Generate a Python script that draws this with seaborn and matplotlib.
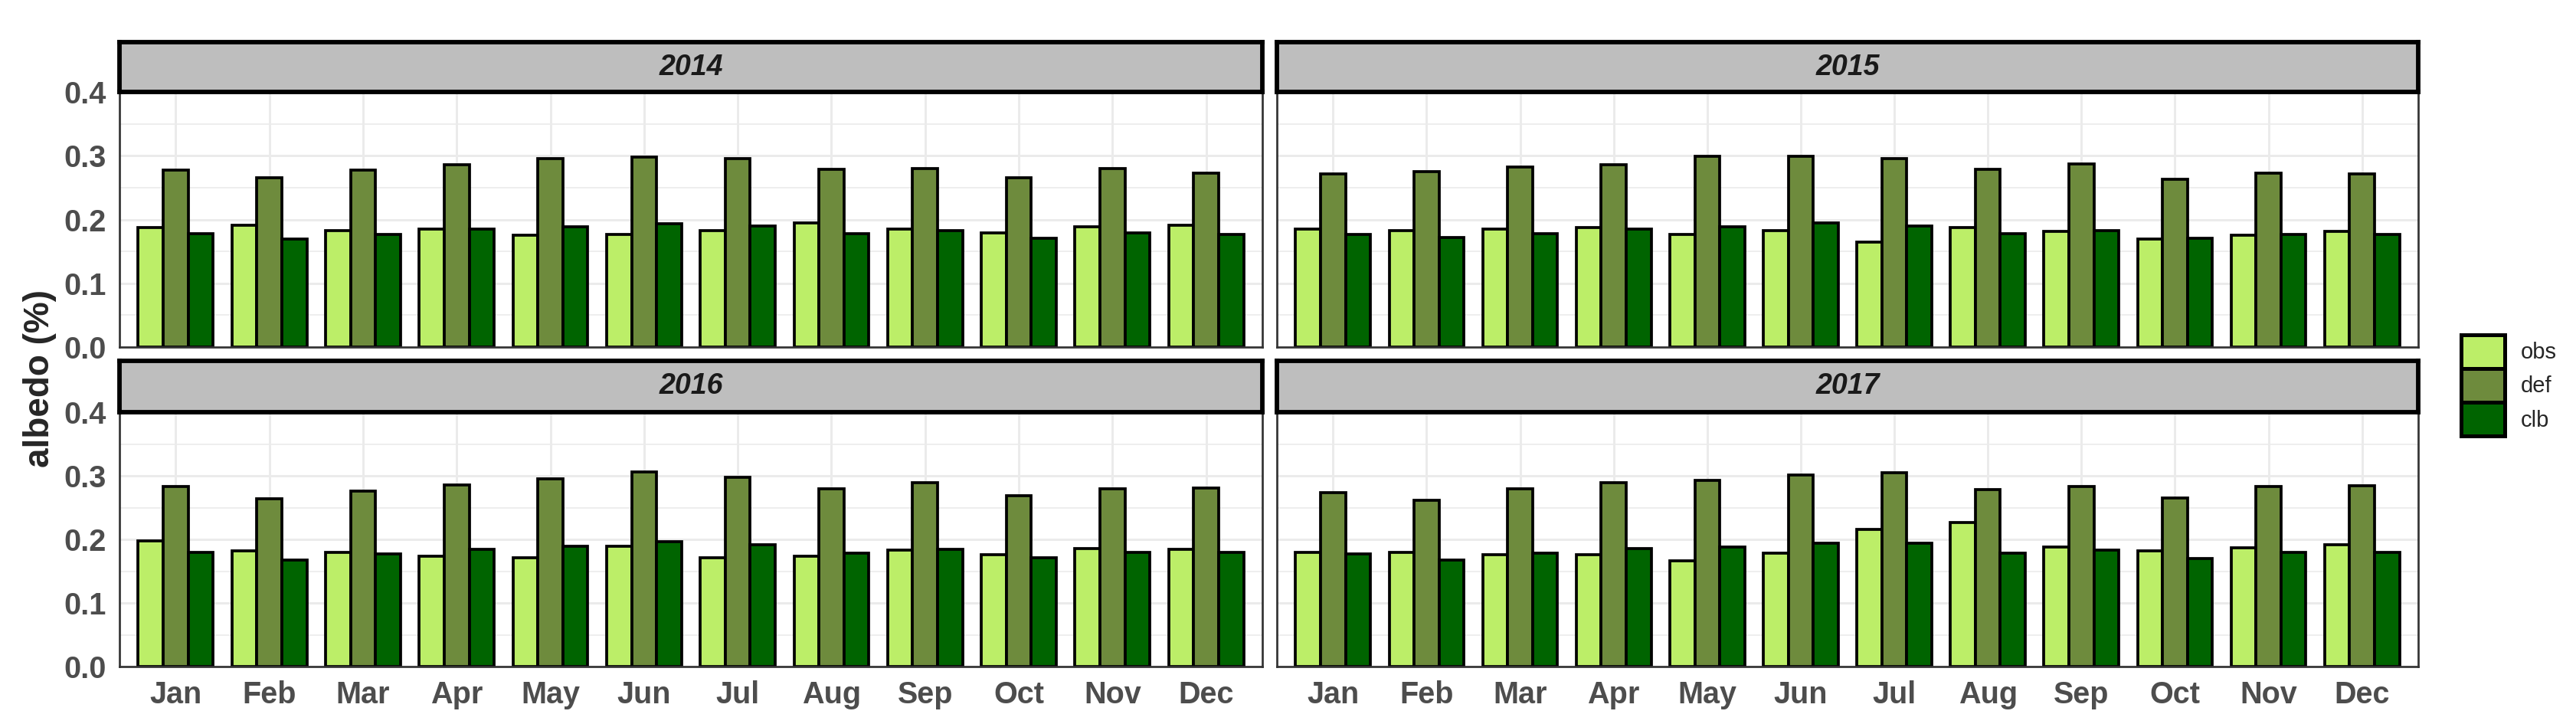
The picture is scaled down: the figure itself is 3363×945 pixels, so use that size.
import pandas as pd
import seaborn as sns
import matplotlib.pyplot as plt
from matplotlib.patches import Patch
from matplotlib.ticker import MultipleLocator

# monthly albedo
months = ['Jan', 'Feb', 'Mar', 'Apr', 'May', 'Jun', 'Jul', 'Aug', 'Sep', 'Oct', 'Nov', 'Dec']
years = ['2014', '2015', '2016', '2017']
types = ['obs', 'def', 'clb']

obs_2014 = [0.187, 0.191, 0.183, 0.185, 0.175, 0.177, 0.183, 0.195, 0.185, 0.179, 0.188, 0.191]
def_2014 = [0.277, 0.266, 0.277, 0.286, 0.295, 0.298, 0.295, 0.279, 0.280, 0.266, 0.280, 0.273]
clb_2014 = [0.178, 0.169, 0.177, 0.185, 0.188, 0.193, 0.190, 0.178, 0.182, 0.171, 0.179, 0.177]

obs_2015 = [0.185, 0.182, 0.185, 0.187, 0.176, 0.183, 0.165, 0.187, 0.181, 0.169, 0.175, 0.181]
def_2015 = [0.272, 0.275, 0.282, 0.286, 0.299, 0.299, 0.295, 0.279, 0.287, 0.263, 0.273, 0.272]
clb_2015 = [0.177, 0.172, 0.178, 0.185, 0.189, 0.194, 0.190, 0.178, 0.183, 0.170, 0.177, 0.177]

obs_2016 = [0.197, 0.182, 0.180, 0.174, 0.171, 0.189, 0.171, 0.173, 0.183, 0.176, 0.185, 0.184]
def_2016 = [0.283, 0.264, 0.276, 0.285, 0.295, 0.306, 0.297, 0.279, 0.289, 0.269, 0.279, 0.281]
clb_2016 = [0.180, 0.168, 0.177, 0.184, 0.189, 0.196, 0.191, 0.178, 0.184, 0.171, 0.179, 0.179]

obs_2017 = [0.180, 0.180, 0.176, 0.176, 0.166, 0.178, 0.216, 0.227, 0.188, 0.182, 0.187, 0.191]
def_2017 = [0.273, 0.261, 0.280, 0.289, 0.293, 0.301, 0.305, 0.278, 0.283, 0.265, 0.283, 0.284]
clb_2017 = [0.177, 0.167, 0.178, 0.185, 0.188, 0.194, 0.194, 0.178, 0.183, 0.170, 0.180, 0.180]

colors = {'obs': '#BCEE68', 'def': '#6E8B3D', 'clb': '#006400'}

series = {
    '2014': [obs_2014, def_2014, clb_2014],
    '2015': [obs_2015, def_2015, clb_2015],
    '2016': [obs_2016, def_2016, clb_2016],
    '2017': [obs_2017, def_2017, clb_2017],
}

rows = []
for yr in years:
    for t, vals in zip(types, series[yr]):
        for m, v in zip(months, vals):
            rows.append({'year': yr, 'month': m, 'type': t, 'albedo': v})
df = pd.DataFrame(rows)

sns.set_style('white')
plt.rcParams['font.family'] = ['Liberation Sans', 'DejaVu Sans']

W, H = 3363, 945
fig = plt.figure(figsize=(W / 300, H / 300), dpi=300)


def px_axes(x0, y0, x1, y1):
    return fig.add_axes([x0 / W, 1 - y1 / H, (x1 - x0) / W, (y1 - y0) / H])


# panel boxes in pixels: (x0, x1), (strip top, panel top, panel bottom)
cols = [(156, 1648), (1667, 3157)]
rws = [(55, 120, 453), (471, 538, 870)]

for i, yr in enumerate(years):
    r, c = divmod(i, 2)
    x0, x1 = cols[c]
    s0, p0, p1 = rws[r]
    ax = px_axes(x0, p0, x1, p1)
    sub = df[df['year'] == yr]
    sns.barplot(data=sub, x='month', y='albedo', hue='type', order=months,
                hue_order=types, palette=colors, edgecolor='black',
                linewidth=0.9, width=0.8, errorbar=None, saturation=1,
                legend=False, ax=ax)
    ax.set_xlim(-0.6, 11.6)
    ax.set_ylim(0, 0.4)
    ax.set_yticks([0, 0.1, 0.2, 0.3, 0.4])
    ax.yaxis.set_minor_locator(MultipleLocator(0.05))
    ax.set_axisbelow(True)
    ax.grid(which='major', color='#EBEBEB', lw=0.7)
    ax.grid(which='minor', axis='y', color='#EBEBEB', lw=0.4)
    ax.set_xlabel('')
    ax.set_ylabel('')
    for sp in ax.spines.values():
        sp.set_color('#333333')
        sp.set_linewidth(0.65)
    ax.tick_params(which='minor', length=0)
    ax.tick_params(axis='both', which='major', colors='#333333', width=0.65,
                   length=2.4, labelsize=9.5, labelcolor='#4D4D4D', pad=1.8)
    for lab in ax.get_xticklabels() + ax.get_yticklabels():
        lab.set_fontweight('bold')
    if r == 0:
        ax.tick_params(axis='x', length=0, labelbottom=False)
    if c == 1:
        ax.tick_params(axis='y', length=0, labelleft=False)

    # facet strip
    st = px_axes(x0, s0, x1, p0)
    st.set_facecolor('#BEBEBE')
    st.set_xticks([])
    st.set_yticks([])
    for sp in st.spines.values():
        sp.set_color('black')
        sp.set_linewidth(1.4)
    st.text(0.5, 0.5, yr, ha='center', va='center', fontsize=9,
            fontweight='bold', fontstyle='italic', color='#1A1A1A',
            transform=st.transAxes)

fig.text(52 / W, 1 - 494 / H, 'albedo (%)', rotation=90, ha='center',
         va='center', fontsize=11, fontweight='bold')

handles = [Patch(facecolor=colors[t], edgecolor='black', linewidth=1.2, label=t)
           for t in types]
fig.legend(handles=handles, loc='upper left',
           bbox_to_anchor=(3213 / W, 1 - 437 / H), frameon=False,
           fontsize=7, handlelength=1.95, handleheight=1.95,
           handletextpad=0.7, labelspacing=0, borderpad=0, borderaxespad=0)

fig.savefig('out.png', dpi=300)
